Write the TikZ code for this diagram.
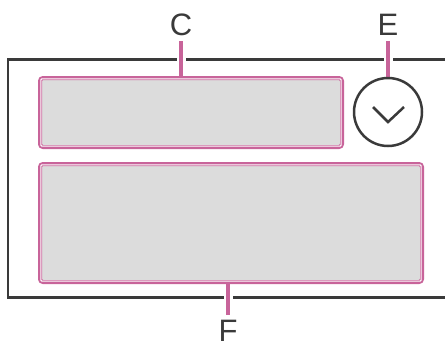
\documentclass[tikz,border=0pt]{standalone}
\usepackage{fontspec}
\setmainfont{Liberation Sans}
\usetikzlibrary{positioning,calc,backgrounds}
\definecolor{Pink}{HTML}{C8649A}
\definecolor{SoftGray}{HTML}{DCDCDC}
\definecolor{Frame}{HTML}{3A3A3A}

\begin{document}
\begin{tikzpicture}[x=1pt,y=-1pt,
    panel/.style={rectangle,rounded corners=3pt,draw=Pink,line width=4pt,fill=SoftGray,inner sep=0pt,anchor=north west},
    dial/.style={circle,draw=Frame,line width=2.5pt,fill=white,minimum size=68pt,inner sep=0pt},
    leader/.style={draw=Pink,line width=3.5pt,preaction={draw=white,line width=9pt}},
    letter/.style={font=\fontsize{31}{31}\selectfont,text=Frame,inner sep=0pt}
]
\useasboundingbox (0,0) rectangle (445,349);
\node[panel,minimum width=302pt,minimum height=69pt] (boxC) at (38,76) {};
\node[panel,minimum width=382pt,minimum height=118pt] (boxF) at (38,162) {};
\node[dial] (dialE) at (388,112) {};
% white inner edge of the panels
\draw[white,line width=1pt,rounded corners=1pt] ($(boxC.north west)+(2.8,2.8)$) rectangle ($(boxC.south east)+(-2.8,-2.8)$);
\draw[white,line width=1pt,rounded corners=1pt] ($(boxF.north west)+(2.8,2.8)$) rectangle ($(boxF.south east)+(-2.8,-2.8)$);
\draw[Frame,line width=2.5pt] ($(dialE.center)+(-15,-5)$) -- ($(dialE.center)+(0,10)$) -- ($(dialE.center)+(16,-5)$);
\node[letter] (labC) at (181,25) {C};
\node[letter] (labE) at (388,25) {E};
\node[letter] (labF) at (228,331) {F};
\begin{scope}[on background layer]
  \draw[Frame,line width=2.5pt] (446,59.5) -- (8,59.5) -- (8,297.5) -- (446,297.5);
  \draw[leader,shorten <=5pt] (labC.south) -- (labC.south |- boxC.north);
  \draw[leader,shorten <=5pt] (labE.south) -- (labE.south |- dialE.north);
  \draw[leader,shorten >=5pt] (labF.north |- boxF.south) -- (labF.north);
\end{scope}
\end{tikzpicture}
\end{document}
